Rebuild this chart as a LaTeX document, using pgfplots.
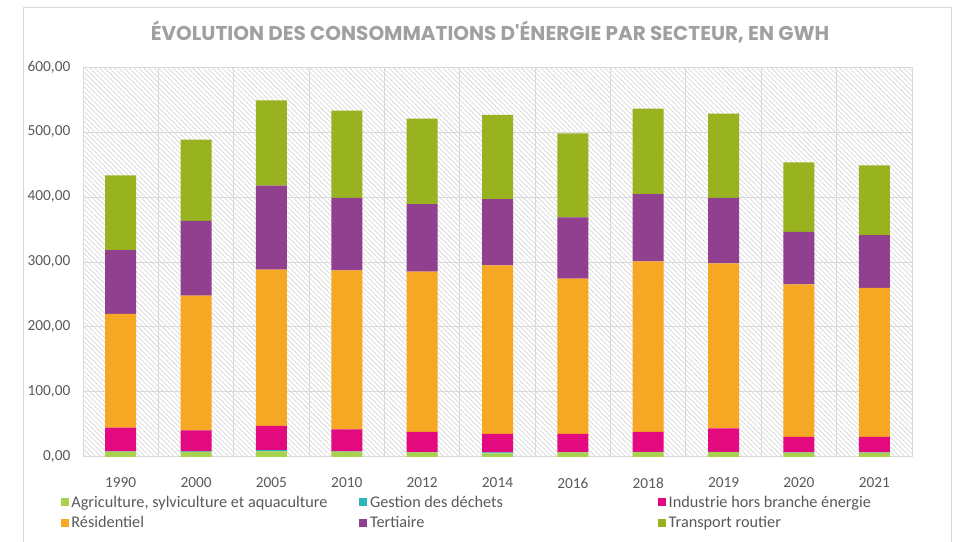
\documentclass[border=0pt]{standalone}
\usepackage{pgfplots}
\pgfplotsset{compat=1.18}
\usepackage{pgfplotstable}
\usepackage{fontspec}
\setmainfont{Carlito}
\newfontfamily\titlefont{Poppins}
\usetikzlibrary{patterns.meta}
\definecolor{cAgri}{HTML}{A8D24E}
\definecolor{cGest}{HTML}{2BB5BC}
\definecolor{cInd}{HTML}{E3097F}
\definecolor{cRes}{HTML}{F6A723}
\definecolor{cTer}{HTML}{914090}
\definecolor{cTra}{HTML}{98B31F}
\definecolor{txt}{HTML}{595959}
\definecolor{ttl}{HTML}{A0A0A0}
\definecolor{gridc}{HTML}{D9D9D9}

\pgfplotstableread{
x year agri gest ind res tert trans
0 1990 8.2 0.5 36.4 175.0 98.0 115.0
1 2000 8.0 0.5 32.5 207.2 114.9 125.1
2 2005 8.5 2.0 37.2 240.5 129.2 131.3
3 2010 8.3 0.5 33.8 244.6 111.3 134.3
4 2012 7.0 0.5 31.0 246.6 104.1 131.3
5 2014 5.5 1.5 28.4 259.5 102.0 129.3
6 2016 7.0 0.5 27.9 239.0 94.3 129.3
7 2018 7.5 0.5 30.5 262.5 103.6 131.3
8 2019 7.5 0.5 36.1 253.9 100.5 129.7
9 2020 6.8 0.5 23.5 234.8 80.6 107.1
10 2021 6.8 0.5 23.5 229.2 81.5 107.2
}\datatable

\newcommand{\lw}[1]{\makebox[214pt][l]{#1}}

\begin{document}
\begin{tikzpicture}
\path[use as bounding box] (0,0) rectangle (714.75pt,406.5pt);
\draw[gridc, line width=0.75pt] (17.25pt,0pt) -- (17.25pt,400.5pt) -- (713.25pt,400.5pt) -- (713.25pt,0pt);
\node[text=ttl, font=\titlefont\bfseries\fontsize{15}{17}\selectfont] at (367.5pt,382.5pt) {ÉVOLUTION DES CONSOMMATIONS D'ÉNERGIE PAR SECTEUR, EN GWH};
\begin{axis}[
  at={(62.25pt,63.75pt)}, anchor=south west,
  scale only axis, width=621.75pt, height=292.5pt,
  ybar stacked, bar width=23.25pt,
  xmin=-0.5, xmax=10.5, ymin=0, ymax=600,
  xtick=data,
  xticklabels={1990,2000,2005,2010,2012,2014,2016,2018,2019,2020,2021},
  minor xtick={-0.5,0.5,...,10.5},
  ytick={0,100,...,600},
  ymajorgrids, xminorgrids,
  major grid style={gridc, line width=0.75pt},
  minor grid style={gridc, line width=0.75pt},
  axis x line*=bottom, axis y line*=left,
  x axis line style={gridc, line width=0.75pt, -},
  y axis line style={draw=none},
  major tick length=0pt, minor tick length=0pt,
  tick label style={text=txt, font=\fontsize{11.5}{13}\selectfont},
  xticklabel style={yshift=-12pt},
  yticklabel style={xshift=-6pt},
  yticklabel={\pgfmathprintnumber[fixed,fixed zerofill,precision=2,use comma,1000 sep={}]{\tick}},
  /pgf/number format/assume math mode=true,
  axis background/.style={fill=white, postaction={pattern={Lines[angle=-45,distance=2.6pt,line width=0.55pt]}, pattern color=gridc}},
  legend columns=3,
  legend style={at={(-0.032,-0.085)}, anchor=north west, draw=none, fill=none,
    font=\fontsize{12.2}{14}\selectfont, text=txt,
    cells={anchor=west}, row sep=1.5pt,
    /tikz/every even column/.append style={column sep=0pt}},
  legend image code/.code={\fill[#1] (0pt,-3pt) rectangle (6pt,3pt);},
]
\addplot[fill=cAgri, draw=none] table[x=x,y=agri]{\datatable};
\addplot[fill=cGest, draw=none] table[x=x,y=gest]{\datatable};
\addplot[fill=cInd, draw=none] table[x=x,y=ind]{\datatable};
\addplot[fill=cRes, draw=none] table[x=x,y=res]{\datatable};
\addplot[fill=cTer, draw=none] table[x=x,y=tert]{\datatable};
\addplot[fill=cTra, draw=none] table[x=x,y=trans]{\datatable};
\legend{\lw{Agriculture, sylviculture et aquaculture},\lw{Gestion des déchets},\lw{Industrie hors branche énergie},\lw{Résidentiel},\lw{Tertiaire},\lw{Transport routier}}
\end{axis}
\end{tikzpicture}
\end{document}
